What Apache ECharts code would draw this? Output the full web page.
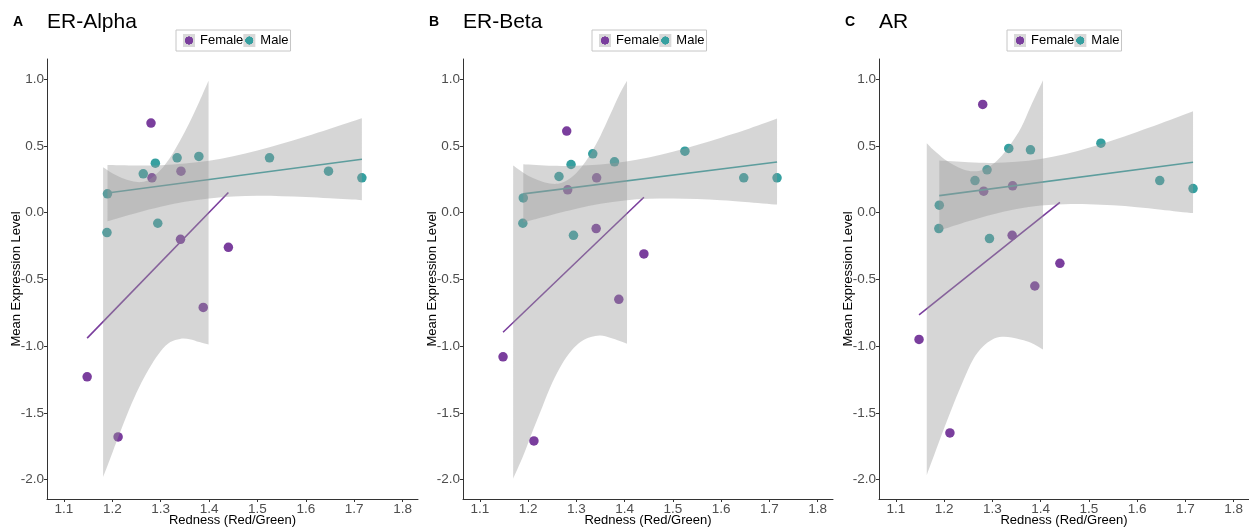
<!DOCTYPE html>
<html>
<head>
<meta charset="utf-8">
<script src="https://cdn.jsdelivr.net/npm/echarts@6/dist/echarts.min.js"></script>
<style>
  html, body { margin: 0; padding: 0; background: #ffffff; }
  #chart { width: 1249px; height: 527px; }
</style>
</head>
<body>
<div id="chart"></div>
<script>
// ---- panel labels ----
const panelTags = ['A', 'B', 'C'];
const panelTitles = ['ER-Alpha', 'ER-Beta', 'AR'];

// ---- axis ticks ----
const xTicks = [1.1, 1.2, 1.3, 1.4, 1.5, 1.6, 1.7, 1.8];
const yTicks = [-2.0, -1.5, -1.0, -0.5, 0.0, 0.5, 1.0];

// ---- redness of each fish ----
const femaleRedness = [1.148, 1.212, 1.280, 1.282, 1.342, 1.341, 1.388, 1.440];
const maleRedness = [1.190, 1.189, 1.264, 1.289, 1.294, 1.334, 1.379, 1.525, 1.647, 1.716];

// ---- mean expression per receptor ----
const femaleAlpha = [-1.23, -1.68, 0.67, 0.26, 0.31, -0.20, -0.71, -0.26];
const femaleBeta = [-1.08, -1.71, 0.61, 0.17, 0.26, -0.12, -0.65, -0.31];
const femaleAR = [-0.95, -1.65, 0.81, 0.16, 0.20, -0.17, -0.55, -0.38];
const maleAlpha = [0.14, -0.15, 0.29, 0.37, -0.08, 0.41, 0.42, 0.41, 0.31, 0.26];
const maleBeta = [0.11, -0.08, 0.27, 0.36, -0.17, 0.44, 0.38, 0.46, 0.26, 0.26];
const maleAR = [0.055, -0.12, 0.24, 0.32, -0.195, 0.48, 0.47, 0.52, 0.24, 0.18];

// ---- fitted lines (ends) ----
const femaleFitX = [1.148, 1.440];
const femaleFitAlpha = [-0.94, 0.15];
const femaleFitBeta = [-0.896, 0.115];
const femaleFitAR = [-0.766, 0.077];
const maleFitX = [1.190, 1.716];
const maleFitAlpha = [0.147, 0.399];
const maleFitBeta = [0.140, 0.379];
const maleFitAR = [0.127, 0.377];

// ---- confidence ribbons ----
const femaleBandXAlpha = [1.181, 1.20, 1.22, 1.24, 1.26, 1.28, 1.30, 1.32, 1.34, 1.36, 1.38, 1.399];
const femaleBandLowAlpha = [-1.981, -1.80, -1.61, -1.43, -1.275, -1.145, -1.038, -0.970, -0.946, -0.948, -0.970, -0.988];
const femaleBandHighAlpha = [0.339, 0.294, 0.258, 0.236, 0.228, 0.256, 0.320, 0.415, 0.538, 0.676, 0.832, 0.988];

const femaleBandXBeta = [1.169, 1.19, 1.21, 1.23, 1.25, 1.27, 1.29, 1.31, 1.33, 1.35, 1.37, 1.39, 1.405];
const femaleBandLowBeta = [-1.993, -1.82, -1.63, -1.45, -1.275, -1.135, -1.033, -0.966, -0.932, -0.921, -0.938, -0.962, -0.983];
const femaleBandHighBeta = [0.352, 0.298, 0.258, 0.230, 0.215, 0.223, 0.265, 0.338, 0.445, 0.576, 0.732, 0.890, 0.988];

const femaleBandXAR = [1.164, 1.18, 1.20, 1.22, 1.24, 1.26, 1.28, 1.30, 1.32, 1.34, 1.36, 1.38, 1.405];
const femaleBandLowAR = [-1.965, -1.81, -1.615, -1.43, -1.255, -1.10, -1.005, -0.950, -0.930, -0.935, -0.953, -0.975, -1.025];
const femaleBandHighAR = [0.519, 0.462, 0.402, 0.356, 0.323, 0.309, 0.318, 0.360, 0.428, 0.522, 0.638, 0.800, 0.990];

const maleBandX = [1.19, 1.25, 1.30, 1.35, 1.40, 1.45, 1.50, 1.55, 1.60, 1.65, 1.716];
const maleBandLowAlpha = [-0.065, -0.003, 0.043, 0.081, 0.106, 0.121, 0.125, 0.123, 0.117, 0.107, 0.092];
const maleBandHighAlpha = [0.357, 0.353, 0.355, 0.367, 0.388, 0.421, 0.465, 0.515, 0.569, 0.627, 0.706];
const maleBandLowBeta = [-0.074, -0.016, 0.029, 0.066, 0.091, 0.103, 0.106, 0.102, 0.093, 0.080, 0.060];
const maleBandHighBeta = [0.362, 0.350, 0.351, 0.360, 0.381, 0.413, 0.456, 0.506, 0.561, 0.618, 0.704];
const maleBandLowAR = [-0.135, -0.065, -0.014, 0.026, 0.052, 0.063, 0.063, 0.054, 0.040, 0.022, -0.004];
const maleBandHighAR = [0.389, 0.376, 0.372, 0.380, 0.402, 0.437, 0.485, 0.542, 0.604, 0.668, 0.758];

// ---- look ----
const FONT = "'Liberation Sans', Arial, Helvetica, sans-serif";
const FEMALE_COLOR = '#7a3e9d';
const MALE_COLOR = '#36a0a0';
const RIBBON = 'rgba(153,153,153,0.4)';
const KEY_GRAY = '#d9d9d9';

const gridLefts = [47, 463, 879];
const gridWidths = [371, 370, 370];
const legendLefts = [176, 592, 1007];

const panels = [
  { female: femaleAlpha, male: maleAlpha, fFit: femaleFitAlpha, mFit: maleFitAlpha,
    fBandX: femaleBandXAlpha, fLow: femaleBandLowAlpha, fHigh: femaleBandHighAlpha,
    mLow: maleBandLowAlpha, mHigh: maleBandHighAlpha },
  { female: femaleBeta, male: maleBeta, fFit: femaleFitBeta, mFit: maleFitBeta,
    fBandX: femaleBandXBeta, fLow: femaleBandLowBeta, fHigh: femaleBandHighBeta,
    mLow: maleBandLowBeta, mHigh: maleBandHighBeta },
  { female: femaleAR, male: maleAR, fFit: femaleFitAR, mFit: maleFitAR,
    fBandX: femaleBandXAR, fLow: femaleBandLowAR, fHigh: femaleBandHighAR,
    mLow: maleBandLowAR, mHigh: maleBandHighAR }
];

const zip = (xs, ys) => xs.map((x, i) => [x, ys[i]]);

// Catmull-Rom spline through pixel points, emitted as cubic bezier segments
function splineSegments(p) {
  let s = '';
  for (let i = 0; i < p.length - 1; i++) {
    const p0 = p[Math.max(i - 1, 0)], p1 = p[i], p2 = p[i + 1], p3 = p[Math.min(i + 2, p.length - 1)];
    const c1 = [p1[0] + (p2[0] - p0[0]) / 6, p1[1] + (p2[1] - p0[1]) / 6];
    const c2 = [p2[0] - (p3[0] - p1[0]) / 6, p2[1] - (p3[1] - p1[1]) / 6];
    s += ' C' + [c1, c2, p2].map(q => q[0].toFixed(2) + ' ' + q[1].toFixed(2)).join(' ');
  }
  return s;
}

function ribbonRenderer(xs, lo, hi) {
  return function (params, api) {
    const top = xs.map((x, i) => api.coord([x, hi[i]]));
    const bottom = xs.map((x, i) => api.coord([x, lo[i]])).reverse();
    const d = 'M' + top[0][0].toFixed(2) + ' ' + top[0][1].toFixed(2) + splineSegments(top) +
      ' L' + bottom[0][0].toFixed(2) + ' ' + bottom[0][1].toFixed(2) + splineSegments(bottom) + ' Z';
    return { type: 'path', shape: { pathData: d }, style: { fill: RIBBON } };
  };
}

function keyFill(color) {
  return {
    type: 'radial', x: 0.5, y: 0.5, r: 0.5,
    colorStops: [
      { offset: 0, color: color }, { offset: 0.66, color: color },
      { offset: 0.7, color: KEY_GRAY }, { offset: 1, color: KEY_GRAY }
    ]
  };
}

const grid = [], xAxis = [], yAxis = [], series = [], legend = [], title = [];

panels.forEach((p, i) => {
  grid.push({ left: gridLefts[i], top: 59, width: gridWidths[i], height: 440,
    containLabel: false, outerBoundsMode: 'none' });

  xAxis.push({
    gridIndex: i, type: 'value', min: 1.065, max: 1.832,
    name: 'Redness (Red/Green)', nameLocation: 'middle', nameGap: 15, nameMoveOverlap: false,
    nameTextStyle: { color: '#000', fontSize: 13, fontFamily: FONT },
    axisLine: { show: true, onZero: false, lineStyle: { color: '#333', width: 1 } },
    axisTick: { show: true, length: 3, customValues: xTicks, lineStyle: { color: '#333' } },
    axisLabel: { customValues: xTicks, formatter: v => v.toFixed(1), color: '#4d4d4d',
      fontSize: 13.5, fontFamily: FONT, margin: 3 },
    splitLine: { show: false }
  });

  yAxis.push({
    gridIndex: i, type: 'value', min: -2.145, max: 1.15,
    name: 'Mean Expression Level', nameLocation: 'middle', nameGap: 24, nameMoveOverlap: false,
    nameTextStyle: { color: '#000', fontSize: 13, fontFamily: FONT },
    axisLine: { show: true, onZero: false, lineStyle: { color: '#333', width: 1 } },
    axisTick: { show: true, length: 3, customValues: yTicks, lineStyle: { color: '#333' } },
    axisLabel: { customValues: yTicks, formatter: v => v.toFixed(1), color: '#4d4d4d',
      fontSize: 13.5, fontFamily: FONT, margin: 3 },
    splitLine: { show: false }
  });

  series.push({
    name: 'Female', type: 'scatter', xAxisIndex: i, yAxisIndex: i, z: 2,
    symbolSize: 9.5, itemStyle: { color: FEMALE_COLOR, opacity: 1 },
    data: zip(femaleRedness, p.female)
  });
  series.push({
    name: 'Male', type: 'scatter', xAxisIndex: i, yAxisIndex: i, z: 2,
    symbolSize: 9.5, itemStyle: { color: MALE_COLOR, opacity: 1 },
    data: zip(maleRedness, p.male)
  });
  series.push({
    name: 'Female', type: 'line', xAxisIndex: i, yAxisIndex: i, z: 3,
    showSymbol: false, lineStyle: { color: FEMALE_COLOR, width: 1.6 },
    data: zip(femaleFitX, p.fFit)
  });
  series.push({
    name: 'Male', type: 'line', xAxisIndex: i, yAxisIndex: i, z: 3,
    showSymbol: false, lineStyle: { color: MALE_COLOR, width: 1.6 },
    data: zip(maleFitX, p.mFit)
  });
  series.push({
    name: 'Female', type: 'custom', xAxisIndex: i, yAxisIndex: i, z: 4, silent: true,
    renderItem: ribbonRenderer(p.fBandX, p.fLow, p.fHigh),
    data: [[p.fBandX[0], p.fLow[0]]]
  });
  series.push({
    name: 'Male', type: 'custom', xAxisIndex: i, yAxisIndex: i, z: 4, silent: true,
    renderItem: ribbonRenderer(maleBandX, p.mLow, p.mHigh),
    data: [[maleBandX[0], p.mLow[0]]]
  });

  legend.push({
    left: legendLefts[i], top: 30, orient: 'horizontal',
    padding: [4, 2, 4, 7], itemGap: 0, itemWidth: 12, itemHeight: 13,
    borderColor: '#c6c6c6', borderWidth: 1, icon: 'rect',
    selectedMode: false,
    textStyle: { color: '#000', fontSize: 13, fontFamily: FONT },
    data: [
      { name: 'Female', itemStyle: { color: keyFill(FEMALE_COLOR) } },
      { name: 'Male', itemStyle: { color: keyFill(MALE_COLOR) } }
    ]
  });

  title.push({
    text: panelTags[i], left: gridLefts[i] - 34, top: 15, padding: 0,
    textStyle: { fontSize: 14, fontWeight: 'bold', color: '#000', fontFamily: FONT }
  });
  title.push({
    text: panelTitles[i], left: gridLefts[i], top: 12, padding: 0,
    textStyle: { fontSize: 21, fontWeight: 'normal', color: '#000', fontFamily: FONT }
  });
});

const chart = echarts.init(document.getElementById('chart'), null, { renderer: 'canvas' });
chart.setOption({
  backgroundColor: '#ffffff',
  animation: false,
  title, legend, grid, xAxis, yAxis, series
});
</script>
</body>
</html>
